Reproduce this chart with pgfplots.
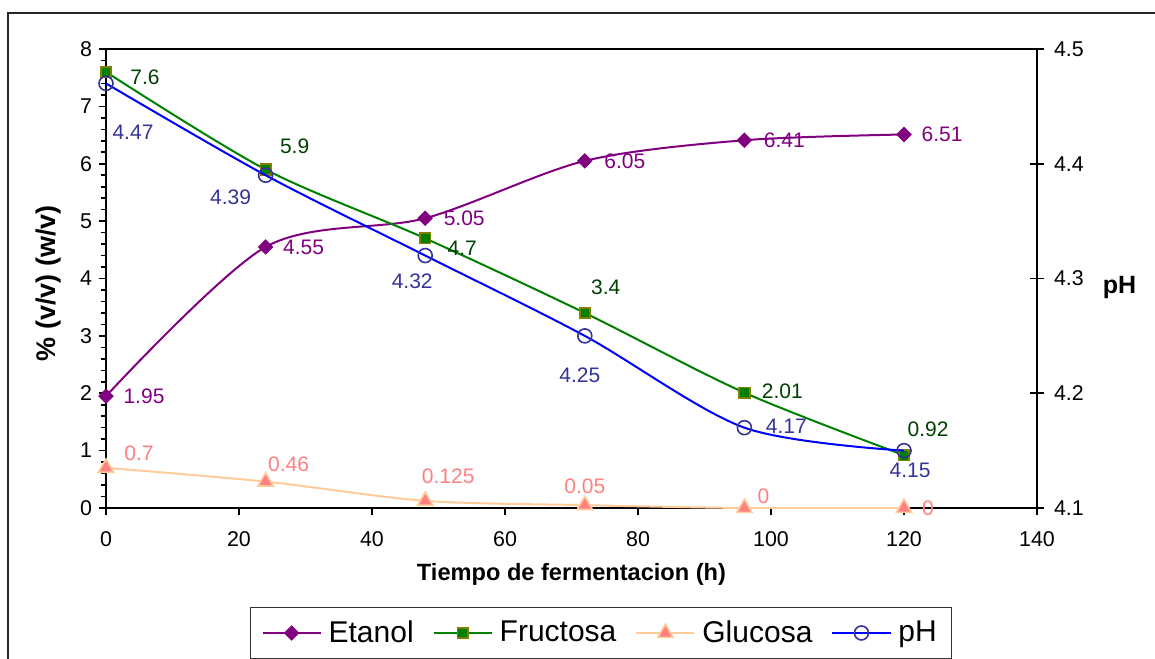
\documentclass[border=0pt]{standalone}
\usepackage{pgfplots}
\pgfplotsset{compat=1.18}
\usepackage{fontspec}
\setmainfont{Liberation Sans}

\definecolor{etanolc}{HTML}{800080}
\definecolor{fructc}{HTML}{008000}
\definecolor{fructedge}{HTML}{808000}
\definecolor{fructlab}{HTML}{004000}
\definecolor{glucline}{HTML}{FFCC99}
\definecolor{glucfill}{HTML}{FF8080}
\definecolor{phline}{HTML}{0000FF}
\definecolor{phmark}{HTML}{333399}

\pgfplotsset{
  valuelabels/.style={
    nodes near coords, point meta=explicit symbolic,
    visualization depends on={value \thisrow{dx} \as \dx},
    visualization depends on={value \thisrow{dy} \as \dy},
    every node near coord/.style={anchor=center, inner sep=0pt,
      font=\fontsize{10.5}{12}\selectfont, text=#1,
      xshift=\dx*0.5pt, yshift=\dy*0.5pt},
  },
  sEtanol/.style={color=etanolc, line width=1pt, smooth, mark=square*, mark size=2.5pt,
    mark options={rotate=45, fill=etanolc, draw=etanolc, line width=0.5pt}},
  sFruct/.style={color=fructc, line width=1pt, smooth, mark=square*, mark size=2.6pt,
    mark options={fill=fructc, draw=fructedge, line width=0.9pt}},
  sGluc/.style={color=glucline, line width=1pt, smooth, mark=triangle*, mark size=4.4pt,
    mark options={fill=glucfill, draw=glucline, line width=0.8pt}},
  sPH/.style={color=phline, line width=1pt, smooth, mark=o, mark size=3.5pt,
    mark options={draw=phmark, line width=0.8pt}},
  commonaxis/.style={
    at={(0,0)}, anchor=south west,
    scale only axis, width=465.5pt, height=229.5pt,
    xmin=0, xmax=140,
    /pgf/number format/assume math mode=true,
    tick label style={font=\fontsize{10.7}{12}\selectfont},
    axis line style={line width=1pt},
    clip mode=individual,
  },
}

\begin{document}
\begin{tikzpicture}
\path[use as bounding box] (-53pt,-75pt) rectangle (524.5pt,254pt);
\clip (-53pt,-75pt) rectangle (524.5pt,254pt);
\draw[line width=0.7pt, black!85] (-49pt,-100pt) rectangle (560pt,247.5pt);

\begin{axis}[
  commonaxis,
  ymin=0, ymax=8,
  xtick={0,20,40,60,80,100,120,140},
  ytick={0,1,2,3,4,5,6,7,8},
  minor y tick num=4,
  tick pos=left,
  tick align=outside,
  major tick length=3.5pt, minor tick length=2.5pt,
  every tick/.style={black, line width=0.8pt},
  xticklabel style={yshift=-4.5pt},
  xlabel={Tiempo de fermentacion (h)},
  ylabel={\% (v/v) (w/v)},
  every axis x label/.style={at={(axis description cs:0.5,-0.1438)}, anchor=center,
    font=\bfseries\fontsize{11.8}{14}\selectfont},
  every axis y label/.style={at={(axis description cs:-0.0612,0.49)}, anchor=center, rotate=90,
    font=\bfseries\fontsize{13.5}{16}\selectfont},
]
\addplot[sEtanol, valuelabels=etanolc] table[meta=lab] {
x y lab dx dy
0 1.95 1.95 38 0
24 4.55 4.55 38 0
48 5.05 5.05 39 0
72 6.05 6.05 40 0
96 6.41 6.41 40 0
120 6.51 6.51 38 0
};
\addplot[sFruct, valuelabels=fructlab] table[meta=lab] {
x y lab dx dy
0 7.6 7.6 39 -5
24 5.9 5.9 29 23
48 4.7 4.7 37 -10
72 3.4 3.4 21 26
96 2.01 2.01 38 1
120 0.92 0.92 24 26
};
\addplot[sGluc, valuelabels=glucfill] table[meta=lab] {
x y lab dx dy
0 0.7 0.7 33 15
24 0.46 0.46 23 17
48 0.125 0.125 23 25
72 0.05 0.05 0 19
96 0 0 19 12
120 0 0 24 0
};
\end{axis}

\begin{axis}[
  commonaxis,
  ymin=4.1, ymax=4.5,
  ytick={4.1,4.2,4.3,4.4,4.5},
  axis x line=none, axis y line*=right,
  tick align=center, major tick length=7pt,
  every tick/.style={black, line width=0.8pt},
  yticklabel style={/pgf/number format/.cd, fixed, fixed zerofill, precision=1, /tikz/.cd, xshift=1.5pt},
  ylabel={pH},
  every axis y label/.style={at={(axis description cs:1.0886,0.48)}, anchor=center,
    font=\bfseries\fontsize{12.5}{15}\selectfont},
  legend columns=4,
  legend style={at={(axis description cs:0.1547,-0.2157)}, anchor=north west,
    draw=black!80, line width=0.6pt, font=\fontsize{15}{18}\selectfont,
    inner xsep=5.5pt, inner ysep=4.5pt,
    /tikz/every odd column/.append style={column sep=1.5pt},
    /tikz/every even column/.append style={column sep=7.5pt}},
  legend image code/.code={\draw[mark repeat=2, mark phase=2] plot coordinates {(0pt,0pt) (14.5pt,0pt) (29pt,0pt)};},
]
\addlegendimage{sEtanol}
\addlegendimage{sFruct}
\addlegendimage{sGluc}
\addplot[sPH, valuelabels=phmark] table[meta=lab] {
x y lab dx dy
0 4.47 4.47 27 -49
24 4.39 4.39 -35 -22
48 4.32 4.32 -13 -26
72 4.25 4.25 -5 -39
96 4.17 4.17 42 1
120 4.15 4.15 6 -20
};
\legend{Etanol,Fructosa,Glucosa,pH}
\end{axis}
\end{tikzpicture}
\end{document}
